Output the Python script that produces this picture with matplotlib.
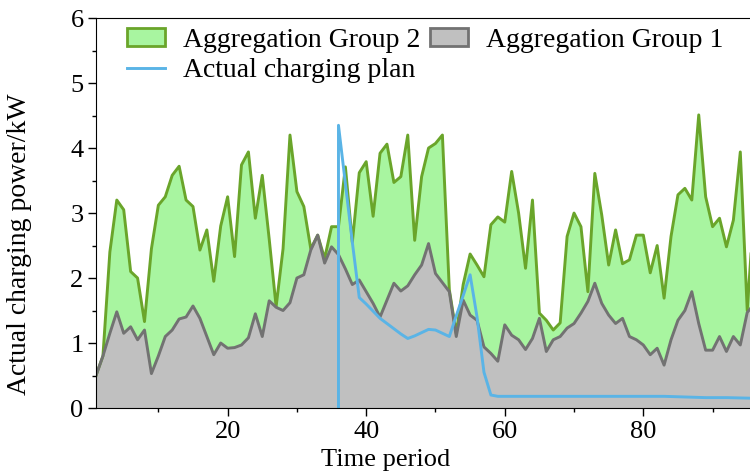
import numpy as np
import matplotlib.pyplot as plt
from matplotlib.patches import Patch
from matplotlib.lines import Line2D
from matplotlib.ticker import MultipleLocator

plt.rcParams['font.family'] = ['Liberation Serif', 'DejaVu Serif']

# time periods 1..96
periods = np.arange(1, 97)

# Aggregation Group 1 (bottom layer, gray)
group1 = [0.50, 0.80, 1.15, 1.48, 1.15, 1.25, 1.05, 1.20, 0.53, 0.80,
          1.10, 1.20, 1.37, 1.40, 1.57, 1.38, 1.10, 0.82, 1.00, 0.92,
          0.93, 0.97, 1.08, 1.45, 1.10, 1.65, 1.55, 1.50, 1.62, 2.00,
          2.05, 2.43, 2.66, 2.23, 2.48, 2.36, 2.14, 1.90, 1.97, 1.79,
          1.61, 1.40, 1.66, 1.92, 1.80, 1.88, 2.05, 2.20, 2.53, 2.07,
          1.93, 1.79, 1.10, 1.66, 1.43, 1.35, 0.94, 0.84, 0.72, 1.28,
          1.12, 1.05, 0.90, 1.07, 1.38, 0.87, 1.05, 1.10, 1.23, 1.30,
          1.46, 1.64, 1.92, 1.61, 1.43, 1.30, 1.38, 1.10, 1.05, 0.97,
          0.82, 0.92, 0.66, 1.05, 1.35, 1.50, 1.79, 1.30, 0.89, 0.89,
          1.10, 0.87, 1.10, 0.97, 1.47, 1.60]

# Aggregation Group 2 (stacked on top of group 1, green)
group2 = [0.00, 0.00, 1.25, 1.72, 1.90, 0.85, 0.95, 0.13, 1.92, 2.32,
          2.15, 2.38, 2.35, 1.80, 1.53, 1.05, 1.64, 1.13, 1.80, 2.33,
          1.40, 2.77, 2.86, 1.47, 2.48, 0.95, 0.01, 0.95, 2.58, 1.33,
          1.05, 0.02, 0.00, 0.07, 0.31, 0.43, 1.57, 0.65, 1.65, 2.00,
          1.34, 2.52, 2.40, 1.55, 1.76, 2.32, 0.53, 1.36, 1.47, 2.00,
          2.27, 0.03, 0.05, 0.24, 0.94, 0.85, 1.08, 1.98, 2.22, 1.58,
          2.52, 1.95, 1.25, 2.13, 0.08, 0.48, 0.15, 0.21, 1.41, 1.70,
          1.33, 0.15, 1.69, 1.36, 0.77, 1.44, 0.84, 1.18, 1.61, 1.69,
          1.26, 1.58, 1.03, 1.59, 1.93, 1.88, 1.41, 3.21, 2.36, 1.90,
          1.82, 1.61, 1.79, 2.97, 0.03, 1.50]

# actual charging plan (starts at period 36)
plan_periods = [36, 36, 37, 38, 39, 40, 41, 42, 43, 44, 45, 46, 47, 48, 49, 50,
                51, 52, 53, 54, 55, 56, 57, 58, 59, 60, 65, 70, 75, 80, 83,
                86, 89, 92, 96]
plan_power = [0.00, 4.35, 3.45, 2.55, 1.70, 1.60, 1.49, 1.38, 1.30, 1.22, 1.14,
              1.07, 1.11, 1.16, 1.21, 1.20, 1.15, 1.10, 1.42, 1.73, 2.05, 1.40,
              0.55, 0.20, 0.18, 0.18, 0.18, 0.18, 0.18, 0.18, 0.18, 0.17,
              0.16, 0.16, 0.15]

g1 = np.array(group1)
top = g1 + np.array(group2)

fig = plt.figure(figsize=(7.5, 4.75), dpi=100)
ax = fig.add_axes([0.128, 0.141, 0.872, 0.821])

ax.fill_between(periods, 0, g1, color='#c0c0c0', lw=0)
ax.fill_between(periods, g1, top, color='#a8f5a0', lw=0)
ax.plot(periods, top, color='#6aa52a', lw=2.1)
ax.plot(periods, g1, color='#727272', lw=2.1)
ax.plot(plan_periods, plan_power, color='#5ab4e6', lw=2.1)

ax.set_xlim(1, 95.4)
ax.set_ylim(0, 6)
ax.xaxis.set_major_locator(MultipleLocator(20))
ax.xaxis.set_minor_locator(MultipleLocator(10))
ax.yaxis.set_major_locator(MultipleLocator(1))
ax.yaxis.set_minor_locator(MultipleLocator(0.5))
ax.tick_params(which='both', direction='out', labelsize=19, width=1, pad=3)
ax.tick_params(which='major', length=6)
ax.tick_params(which='minor', length=3)
ax.spines['right'].set_visible(False)

ax.set_xlabel('Time period', fontsize=19)
ax.set_ylabel('Actual charging power/kW', fontsize=20)
ax.xaxis.set_label_coords(0.443, -0.105)
ax.yaxis.set_label_coords(-0.098, 0.42)

handles = [
    Patch(facecolor='#a8f5a0', edgecolor='#6aa52a', lw=2),
    Line2D([], [], color='#5ab4e6', lw=2.1),
    Patch(facecolor='#c0c0c0', edgecolor='#727272', lw=2),
]
labels = ['Aggregation Group 2', 'Actual charging plan', 'Aggregation Group 1']
ax.legend(handles, labels, ncol=2, loc='upper left', frameon=False,
          fontsize=20, bbox_to_anchor=(0.047, 0.975), borderaxespad=0,
          borderpad=0, handlelength=1.37, handleheight=0.65,
          columnspacing=0.35, labelspacing=0.2, handletextpad=0.65)

fig.savefig('out.png', dpi=100)
